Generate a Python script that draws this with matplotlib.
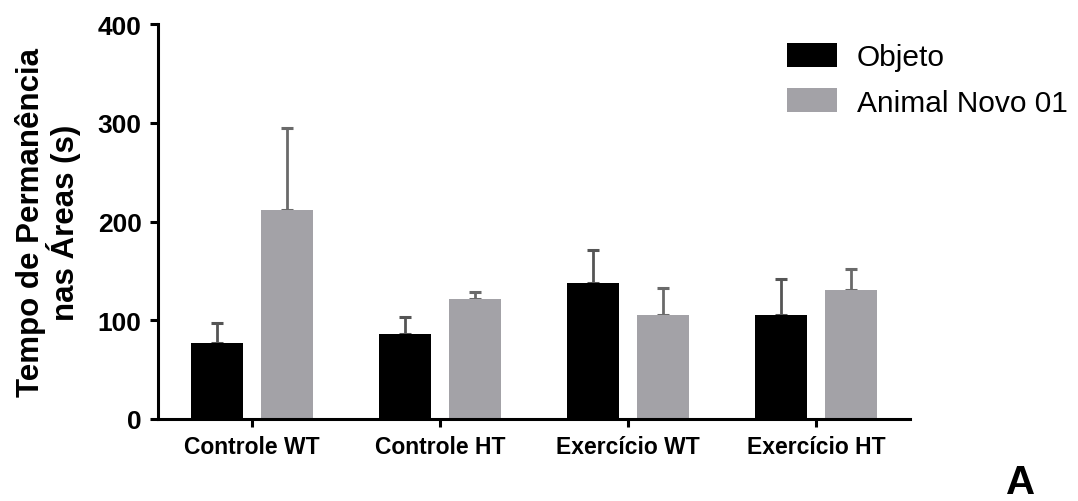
import numpy as np
import matplotlib
matplotlib.use("Agg")
import matplotlib.pyplot as plt

plt.rcParams["font.family"] = ["Liberation Sans", "DejaVu Sans"]

# Data
groups = ["Controle WT", "Controle HT", "Exercício WT", "Exercício HT"]
series = ["Objeto", "Animal Novo 01"]
objeto_mean = [77, 86, 138, 105]
objeto_err = [20, 17, 33, 37]
animal_mean = [212, 122, 105, 131]
animal_err = [83, 7, 28, 21]

colors = ["#000000", "#a3a2a7"]
err_colors = ["#555555", "#6a6a6a"]

fig = plt.figure(figsize=(10.78, 5.02), dpi=100)
ax = fig.add_axes([158 / 1078, 82 / 502, 752 / 1078, 395 / 502])

x = np.arange(len(groups))
width = 0.277
offset = 0.187

for i, (means, errs) in enumerate([(objeto_mean, objeto_err), (animal_mean, animal_err)]):
    pos = x + (i * 2 - 1) * offset
    ax.bar(pos, means, width=width, color=colors[i], label=series[i], zorder=2)
    ax.errorbar(pos, means, yerr=[np.zeros(len(errs)), errs], fmt="none",
                ecolor=err_colors[i], elinewidth=2.0, capsize=4.3, capthick=2.2,
                zorder=1)

ax.set_xlim(-0.5, 3.5)
ax.set_ylim(0, 400)
ax.set_yticks([0, 100, 200, 300, 400])
ax.set_xticks(x)
ax.set_xticklabels(groups, fontsize=16.5, fontweight="bold")
for lbl in ax.get_yticklabels():
    lbl.set_fontsize(19)
    lbl.set_fontweight("bold")

for side in ["top", "right"]:
    ax.spines[side].set_visible(False)
for side in ["left", "bottom"]:
    ax.spines[side].set_linewidth(2.2)
ax.tick_params(axis="both", width=2.2, length=5.8, color="black")
ax.tick_params(axis="y", pad=6)
ax.tick_params(axis="x", pad=6)

ax.set_ylabel("Tempo de Permanência\nnas Áreas (s)", fontsize=22.5,
              fontweight="bold", linespacing=1.0, labelpad=12)

ax.legend(loc="upper left", bbox_to_anchor=(787 / 1078, 1 - 44 / 502),
          bbox_transform=fig.transFigure, frameon=False, fontsize=21.5,
          handlelength=1.67, handleheight=0.84, handletextpad=0.67,
          labelspacing=0.58, borderpad=0, borderaxespad=0)

fig.text(1021 / 1078, 0, "A", fontsize=29, fontweight="bold",
         ha="center", va="bottom")

fig.savefig("out.png", dpi=100)
